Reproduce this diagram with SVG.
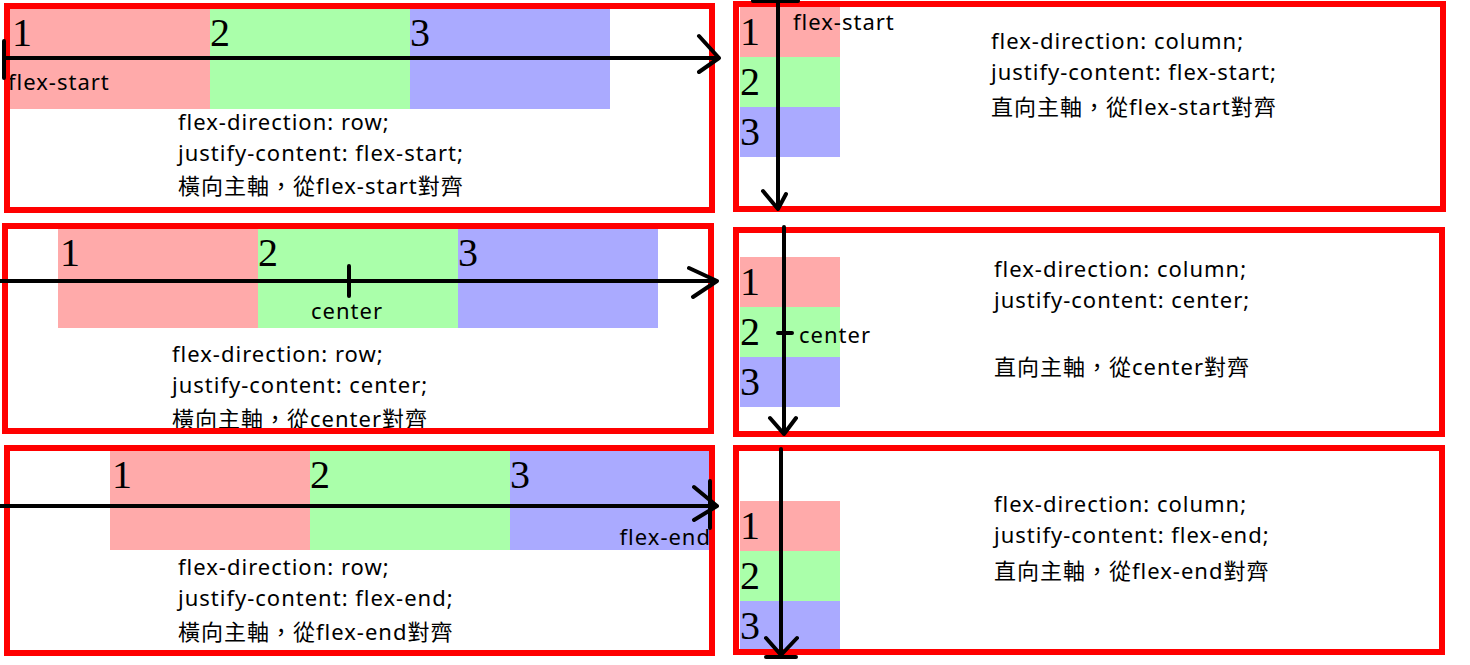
<svg xmlns="http://www.w3.org/2000/svg" width="1470" height="665" viewBox="0 0 1470 665">
<style>
.frame{fill:none;stroke:#ff0000;stroke-width:6}
.p{fill:#ffaaaa}.g{fill:#aaffaa}.b{fill:#aaaaff}
.d{font-family:"Liberation Serif",serif;font-size:40px;fill:#000}
.t{font-family:"Noto Sans","Noto Sans CJK TC",sans-serif;font-size:22px;letter-spacing:1px;fill:#000}
.ax{fill:none;stroke:#000;stroke-width:4;stroke-linecap:round;stroke-linejoin:round}
</style>
<rect width="1470" height="665" fill="#fff"/>
<g id="row-start">
<rect class="p" x="10" y="9" width="200" height="100"/>
<rect class="g" x="210" y="9" width="200" height="100"/>
<rect class="b" x="410" y="9" width="200" height="100"/>
<text class="d" x="12" y="46">1</text><text class="d" x="210" y="46">2</text><text class="d" x="410" y="46">3</text>
<text class="t" x="8" y="90">flex-start</text>
<text class="t" x="178" y="130">flex-direction: row;</text>
<text class="t" x="178" y="161">justify-content: flex-start;</text>
<text class="t" x="178" y="194">橫向主軸，從flex-start對齊</text>
<rect class="frame" x="7" y="6" width="705" height="204"/>
</g>
<g id="row-center">
<rect class="p" x="58" y="229" width="200" height="99"/>
<rect class="g" x="258" y="229" width="200" height="99"/>
<rect class="b" x="458" y="229" width="200" height="99"/>
<text class="d" x="60" y="266">1</text><text class="d" x="258" y="266">2</text><text class="d" x="458" y="266">3</text>
<text class="t" x="347" y="319" text-anchor="middle">center</text>
<text class="t" x="172" y="362">flex-direction: row;</text>
<text class="t" x="172" y="393">justify-content: center;</text>
<text class="t" x="172" y="427">橫向主軸，從center對齊</text>
<rect class="frame" x="5" y="226" width="706" height="205"/>
</g>
<g id="row-end">
<rect class="p" x="110" y="451" width="200" height="99"/>
<rect class="g" x="310" y="451" width="200" height="99"/>
<rect class="b" x="510" y="451" width="200" height="99"/>
<text class="d" x="112" y="488">1</text><text class="d" x="310" y="488">2</text><text class="d" x="510" y="488">3</text>
<text class="t" x="711" y="545" text-anchor="end">flex-end</text>
<text class="t" x="178" y="575">flex-direction: row;</text>
<text class="t" x="178" y="606">justify-content: flex-end;</text>
<text class="t" x="178" y="640">橫向主軸，從flex-end對齊</text>
<rect class="frame" x="7" y="448" width="705" height="205"/>
</g>
<g id="col-start">
<rect class="p" x="740" y="7" width="100" height="50"/>
<rect class="g" x="740" y="57" width="100" height="50"/>
<rect class="b" x="740" y="107" width="100" height="50"/>
<text class="d" x="740" y="45">1</text><text class="d" x="740" y="95">2</text><text class="d" x="740" y="145">3</text>
<text class="t" x="793" y="30">flex-start</text>
<text class="t" x="991" y="49">flex-direction: column;</text>
<text class="t" x="991" y="80">justify-content: flex-start;</text>
<text class="t" x="991" y="115">直向主軸，從flex-start對齊</text>
<rect class="frame" x="736" y="4" width="707" height="205"/>
</g>
<g id="col-center">
<rect class="p" x="740" y="257" width="100" height="50"/>
<rect class="g" x="740" y="307" width="100" height="50"/>
<rect class="b" x="740" y="357" width="100" height="50"/>
<text class="d" x="740" y="295">1</text><text class="d" x="740" y="345">2</text><text class="d" x="740" y="395">3</text>
<text class="t" x="799" y="343">center</text>
<text class="t" x="994" y="277">flex-direction: column;</text>
<text class="t" x="994" y="308">justify-content: center;</text>
<text class="t" x="994" y="375">直向主軸，從center對齊</text>
<rect class="frame" x="736" y="230" width="706" height="204"/>
</g>
<g id="col-end">
<rect class="p" x="740" y="501" width="100" height="50"/>
<rect class="g" x="740" y="551" width="100" height="50"/>
<rect class="b" x="740" y="601" width="100" height="50"/>
<text class="d" x="740" y="539">1</text><text class="d" x="740" y="589">2</text><text class="d" x="740" y="639">3</text>
<text class="t" x="994" y="512">flex-direction: column;</text>
<text class="t" x="994" y="543">justify-content: flex-end;</text>
<text class="t" x="994" y="579">直向主軸，從flex-end對齊</text>
<rect class="frame" x="736" y="448" width="706" height="204"/>
</g>
<g id="connectors">
<path class="ax" d="M4 58H719M699 36L719 58L699 72M4 41V78"/>
<path class="ax" d="M0 281H717M689 268L717 281L693 297M349 266V296"/>
<path class="ax" d="M0 506H717M694 487L717 506L694 520M710 481V528"/>
<path class="ax" d="M778 0V209M753 1H798M763 191L778 209L786 194"/>
<path class="ax" d="M784 227V434M770 418L784 434L796 418M778 333H792"/>
<path class="ax" d="M781 449V656M766 638L781 655L797 638M766 657H796"/>
</g>
</svg>
